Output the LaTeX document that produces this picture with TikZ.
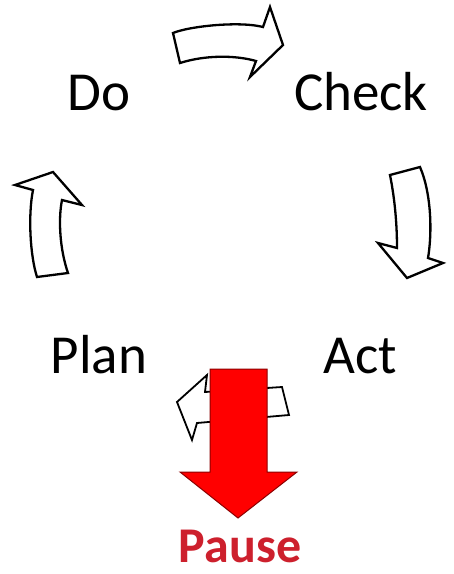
\documentclass[tikz,border=0pt]{standalone}
\usepackage{fontspec}
\setmainfont{Carlito}
\definecolor{pausered}{RGB}{205,32,45}
\definecolor{arrowred}{RGB}{255,0,0}
\definecolor{arrowedge}{RGB}{140,0,0}
\begin{document}
\begin{tikzpicture}[x=1pt,y=-1pt,
  lbl/.style={anchor=base,inner sep=0pt,font=\fontsize{55}{60}\selectfont},
  outline/.style={draw=black,fill=white,line width=2.3pt,line join=miter},
  bigred/.style={draw=arrowedge,fill=arrowred,line width=1pt,line join=miter}]
\useasboundingbox[fill=white] (0,0) rectangle (454,574);
% labels
\node[lbl] (do) at (99,110) {Do};
\node[lbl] (check) at (361,110) {Check};
\node[lbl] (plan) at (99,373) {Plan};
\node[lbl] (act) at (360,373) {Act};
% top arrow (Do -> Check)
\draw[outline] (173,33) .. controls (190,26) and (240,21) .. (263,27) -- (270,7) -- (283,45) -- (250,77) -- (256,61) .. controls (235,55) and (205,55) .. (180,63) -- cycle;
% right arrow (Check -> Act)
\draw[outline] (390,175) -- (420,167) .. controls (432,195) and (432,235) .. (428,258) -- (443,263) -- (407,278) -- (378,243) -- (397,248) .. controls (397,225) and (395,200) .. (390,175) -- cycle;
% left arrow (Plan -> Do)
\draw[outline] (37,277) -- (68,273) .. controls (60,250) and (58,220) .. (62,200) -- (82,205) -- (53,172) -- (15,185) -- (33,190) .. controls (28,215) and (30,255) .. (37,277) -- cycle;
% bottom arrow (Act -> Plan), mostly hidden
\draw[outline,line width=1.8pt] (205,392) -- (207,375) -- (177,402) -- (192,440) -- (197,423) -- (289,415) -- (282,387) -- cycle;
% red pause arrow
\draw[bigred] (210,369) -- (267,369) -- (267,472) -- (297,472) -- (238,518) -- (180,472) -- (210,472) -- cycle;
\node[anchor=base,inner sep=0pt,text=pausered,font=\fontsize{50}{55}\selectfont\bfseries] (pause) at (240,562) {Pause};
\end{tikzpicture}
\end{document}
